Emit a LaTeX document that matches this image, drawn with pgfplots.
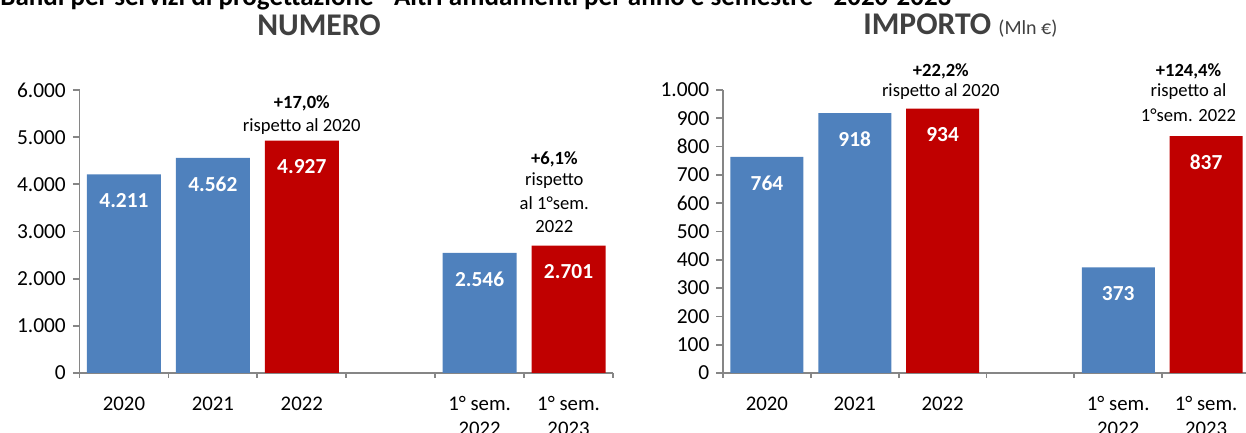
\documentclass[border=0pt]{standalone}
\usepackage{fontspec}
\setmainfont{Carlito}
\usepackage{pgfplots}
\pgfplotsset{compat=1.18}
\definecolor{barBlue}{RGB}{79,129,189}
\definecolor{barRed}{RGB}{192,0,0}
\definecolor{axisGray}{RGB}{134,134,134}
\definecolor{titleGray}{RGB}{64,64,64}

\tikzset{
  note/.style={font=\fontsize{9.3}{11}\selectfont},
  bnote/.style={font=\bfseries\fontsize{9.3}{11}\selectfont},
}

\pgfplotsset{
  barchart/.style={
    scale only axis, height=141.5pt,
    xmin=-0.5, xmax=5.5, ymin=0,
    axis x line*=bottom, axis y line*=left,
    axis line style={axisGray, line width=0.85pt},
    tick align=outside, major tick length=3.3pt, minor tick length=2.5pt,
    ytick style={axisGray, line width=0.85pt},
    xtick={0,...,5},
    xticklabels={2020,2021,2022,,{1° sem.\\2022},{1° sem.\\2023}},
    minor xtick={-0.5,0.5,...,5.5},
    major x tick style={draw=none},
    minor x tick style={axisGray, line width=0.85pt},
    xticklabel style={align=center, font=\fontsize{10.4}{12.5}\selectfont, yshift=-5pt},
    yticklabel style={font=\fontsize{10.7}{12}\selectfont},
    scaled y ticks=false,
    /pgf/number format/assume math mode=true,
    /pgf/number format/1000 sep={.},
    ybar, bar shift=0pt,
    nodes near coords,
    nodes near coords align={center},
    every node near coord/.append style={font=\bfseries\fontsize{10.7}{12}\selectfont, text=white, yshift=-13pt},
    clip=false,
  },
}

\begin{document}
\begin{tikzpicture}
\useasboundingbox (0,0) rectangle (623pt,216.5pt);

% heading, cut off at the top edge as in the source
\node[anchor=base west, inner sep=0pt, font=\bfseries\fontsize{13.5}{16}\selectfont]
  at (0pt,213.5pt) {Bandi per servizi di progettazione - Altri affidamenti per anno e semestre - 2020-2023};

\node[anchor=base, inner sep=0pt, text=titleGray, font=\bfseries\fontsize{15.8}{18}\selectfont]
  at (159.5pt,198.5pt) {NUMERO};
\node[anchor=base west, inner sep=0pt, text=titleGray, font=\bfseries\fontsize{15.8}{18}\selectfont]
  at (431.5pt,199pt) {IMPORTO {\mdseries\fontsize{10}{12}\selectfont (Mln €)}};

% NUMERO
\begin{axis}[barchart, at={(39.75pt,30pt)}, anchor=south west,
  width=266.75pt, ymax=6000, ytick={0,1000,...,6000}, bar width=37pt]
  \addplot[fill=barBlue, draw=none] coordinates {(0,4211) (1,4562) (4,2546)};
  \addplot[fill=barRed, draw=none] coordinates {(2,4927) (5,2701)};
  \node[bnote] at (axis cs:2,5724) {+17,0\%};
  \node[note] at (axis cs:2,5215) {rispetto al 2020};
  \node[bnote] at (axis cs:4.84,4537) {+6,1\%};
  \node[note] at (axis cs:4.84,4070) {rispetto};
  \node[note] at (axis cs:4.84,3604) {al 1°sem.};
  \node[note] at (axis cs:4.84,3116) {2022};
\end{axis}

% IMPORTO
\begin{axis}[barchart, at={(361.5pt,30pt)}, anchor=south west,
  width=263.5pt, ymax=1000, ytick={0,100,...,1000}, bar width=36.5pt]
  \addplot[fill=barBlue, draw=none] coordinates {(0,764) (1,918) (4,373)};
  \addplot[fill=barRed, draw=none] coordinates {(2,934) (5,837)};
  \node[bnote] at (axis cs:1.98,1067) {+22,2\%};
  \node[note] at (axis cs:1.98,993) {rispetto al 2020};
  \node[bnote] at (axis cs:4.8,1067) {+124,4\%};
  \node[note] at (axis cs:4.8,993) {rispetto al};
  \node[note] at (axis cs:4.8,912) {1°sem. 2022};
\end{axis}
\end{tikzpicture}
\end{document}
